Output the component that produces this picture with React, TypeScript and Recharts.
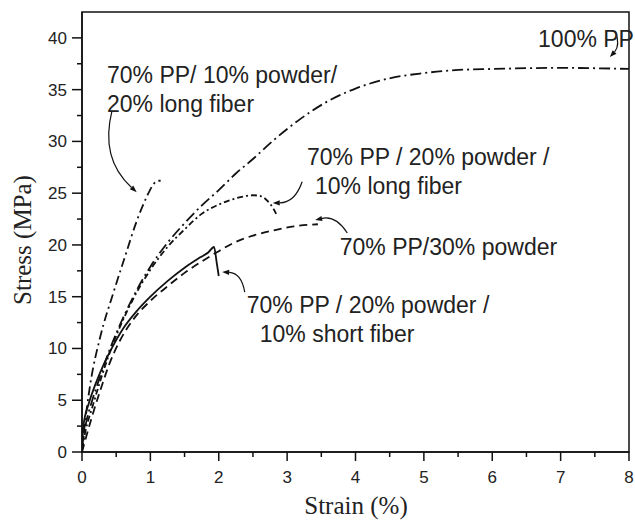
import {
  LineChart,
  Line,
  XAxis,
  YAxis,
  ReferenceArea,
  ReferenceLine,
  ReferenceDot,
  Customized,
} from 'recharts';

type Pt = [number, number];

// strain (%), stress (MPa)
const pp100: Pt[] = [
  [0, 0.5], [0.05, 2.5], [0.15, 5], [0.25, 7], [0.4, 9.8], [0.55, 12.2], [0.75, 15],
  [1.0, 17.9], [1.25, 20.2], [1.5, 22.1], [1.75, 23.8], [2.0, 25.3], [2.25, 26.9],
  [2.5, 28.3], [2.8, 30.1], [3.2, 32.2], [3.6, 33.9], [4.0, 35.1], [4.5, 36.1],
  [5.0, 36.6], [5.5, 36.9], [6.0, 37.0], [7.0, 37.1], [8.0, 37.0],
];
const longFiber20: Pt[] = [
  [0, 0], [0.03, 2], [0.12, 6.5], [0.27, 11.2], [0.46, 15.4], [0.63, 18.9],
  [0.8, 22.3], [0.95, 24.7], [1.05, 25.9], [1.1, 26.2], [1.15, 26.2],
];
const longFiber10: Pt[] = [
  [0, 0.3], [0.05, 2], [0.15, 4.3], [0.25, 6.5], [0.4, 9.5], [0.55, 12], [0.75, 14.8],
  [1.0, 17.6], [1.25, 19.8], [1.5, 21.5], [1.75, 23.0], [2.0, 23.9], [2.25, 24.5],
  [2.5, 24.8], [2.62, 24.7], [2.72, 24.2], [2.8, 23.5], [2.84, 23.0],
];
const shortFiber10: Pt[] = [
  [0, 0.3], [0.02, 2.5], [0.1, 4.7], [0.2, 6.6], [0.3, 8.2], [0.45, 10.2], [0.6, 11.9],
  [0.8, 13.6], [1.0, 15.0], [1.25, 16.5], [1.5, 17.8], [1.73, 18.8], [1.85, 19.3],
  [1.93, 19.8], [1.97, 18.3], [2.0, 17.0],
];
const powder30: Pt[] = [
  [0, 0], [0.05, 1.2], [0.15, 3.5], [0.27, 6], [0.4, 8.5], [0.55, 10.7], [0.75, 12.8],
  [1.0, 14.6], [1.25, 16.0], [1.5, 17.3], [1.75, 18.4], [2.0, 19.4], [2.25, 20.3],
  [2.5, 20.9], [2.8, 21.4], [3.1, 21.8], [3.45, 22.0],
];

const xTicks = [0, 0.5, 1, 1.5, 2, 2.5, 3, 3.5, 4, 4.5, 5, 5.5, 6, 6.5, 7, 7.5, 8];
const yTicks = [0, 2.5, 5, 7.5, 10, 12.5, 15, 17.5, 20, 22.5, 25, 27.5, 30, 32.5, 35, 37.5, 40];

// text notes: left edge / baseline of first line in data units
const notes = [
  { x: 0.366, y: 35.64, lines: ['70% PP/ 10% powder/', '20% long fiber'], indent: 0 },
  { x: 3.29, y: 27.72, lines: ['70% PP / 20% powder /', '10% long fiber'], indent: 8 },
  { x: 3.77, y: 19.03, lines: ['70% PP/30% powder'], indent: 0 },
  { x: 2.41, y: 13.43, lines: ['70% PP / 20% powder /', '10% short fiber'], indent: 13 },
  { x: 6.67, y: 39.12, lines: ['100% PP'], indent: 0 },
];

// leader arrows: from label to curve
const arrows = [
  { from: [0.44, 33.0], to: [0.8, 25.1], bend: 0.3 },
  { from: [3.22, 26.1], to: [2.79, 24.05], bend: -0.35 },
  { from: [3.88, 21.15], to: [3.41, 22.41], bend: 0.35 },
  { from: [2.38, 15.45], to: [2.05, 17.39], bend: 0.4 },
  { from: [7.8, 40.66], to: [7.72, 38.15], bend: -0.3 },
];

const SANS = '"Liberation Sans", Arial, sans-serif';
const SERIF = '"Liberation Serif", "Times New Roman", serif';
const INK = '#111';

const rows = (pts: Pt[]) => pts.map(([strain, stress]) => ({ strain, stress }));

const YTick = ({ x, y, payload }: any) => {
  const major = payload.value % 5 === 0;
  return (
    <g>
      <line x1={x} x2={x - (major ? 10 : 5)} y1={y} y2={y} stroke={INK} strokeWidth={1.5} />
      {major && (
        <text x={x - 15} y={y} dy={6} textAnchor="end" fontSize={17} fontFamily={SANS} fill="#222">
          {payload.value}
        </text>
      )}
    </g>
  );
};

const XTick = ({ x, y, payload }: any) => {
  const major = payload.value % 1 === 0;
  return (
    <g>
      <line x1={x} x2={x} y1={y} y2={y + (major ? 9 : 5)} stroke={INK} strokeWidth={1.5} />
      {major && (
        <text x={x} y={y + 31} textAnchor="middle" fontSize={17} fontFamily={SANS} fill="#222">
          {payload.value}
        </text>
      )}
    </g>
  );
};

const arrowShape = (bend: number) => (props: any) => {
  const { x1, y1, x2, y2 } = props;
  const dx = x2 - x1;
  const dy = y2 - y1;
  const cx = (x1 + x2) / 2 - dy * bend;
  const cy = (y1 + y2) / 2 + dx * bend;
  const ang = Math.atan2(y2 - cy, x2 - cx);
  const len = 7;
  const half = 2.6;
  const bx = x2 - len * Math.cos(ang);
  const by = y2 - len * Math.sin(ang);
  const px = half * Math.sin(ang);
  const py = -half * Math.cos(ang);
  return (
    <g>
      <path d={`M${x1},${y1} Q${cx},${cy} ${bx},${by}`} fill="none" stroke={INK} strokeWidth={1.2} />
      <polygon points={`${x2},${y2} ${bx + px},${by + py} ${bx - px},${by - py}`} fill={INK} />
    </g>
  );
};

const noteShape = (lines: string[], indent: number) => (props: any) => (
  <text x={props.cx} y={props.cy} fontSize={23} fontFamily={SANS} fill="#222">
    {lines.map((t, i) => (
      <tspan key={i} x={props.cx + (i > 0 ? indent : 0)} dy={i === 0 ? 0 : 29}>
        {t}
      </tspan>
    ))}
  </text>
);

const Titles = () => (
  <g fontFamily={SERIF} fontSize={25} fill="#222">
    <text x={356} y={514} textAnchor="middle">Strain (%)</text>
    <text x={31} y={240} textAnchor="middle" transform="rotate(-90 31 240)">Stress (MPa)</text>
  </g>
);

const series = [
  { key: 'pp100', data: pp100, dash: '11 4 2 4' },
  { key: 'lf20', data: longFiber20, dash: '9 4 2 4' },
  { key: 'lf10', data: longFiber10, dash: '6 3 2 3' },
  { key: 'sf10', data: shortFiber10, dash: undefined },
  { key: 'pw30', data: powder30, dash: '8 5' },
];

export default function App() {
  return (
    <div style={{ position: 'absolute', left: 0, top: 0, background: '#fff' }}>
      <LineChart width={635} height={523} margin={{ top: 12, right: 6, bottom: 0, left: 0 }}>
        <XAxis
          type="number"
          dataKey="strain"
          domain={[0, 8]}
          ticks={xTicks}
          interval={0}
          height={71}
          tickSize={0}
          tickMargin={0}
          tick={<XTick />}
          axisLine={{ stroke: INK, strokeWidth: 1.5 }}
          allowDataOverflow
        />
        <YAxis
          type="number"
          dataKey="stress"
          domain={[0, 42.5]}
          ticks={yTicks}
          interval={0}
          width={82}
          tickSize={0}
          tickMargin={0}
          tick={<YTick />}
          axisLine={{ stroke: INK, strokeWidth: 1.5 }}
          allowDataOverflow
        />
        <ReferenceArea x1={0} x2={8} y1={0} y2={42.5} fill="none" stroke={INK} strokeWidth={1.5} />
        {series.map((s) => (
          <Line
            key={s.key}
            data={rows(s.data)}
            dataKey="stress"
            type="monotone"
            stroke={INK}
            strokeWidth={1.8}
            strokeDasharray={s.dash}
            dot={false}
            activeDot={false}
            isAnimationActive={false}
          />
        ))}
        {arrows.map((a, i) => (
          <ReferenceLine
            key={`arrow-${i}`}
            segment={[
              { x: a.from[0], y: a.from[1] },
              { x: a.to[0], y: a.to[1] },
            ]}
            shape={arrowShape(a.bend)}
          />
        ))}
        {notes.map((n, i) => (
          <ReferenceDot key={`note-${i}`} x={n.x} y={n.y} r={0} shape={noteShape(n.lines, n.indent)} />
        ))}
        <Customized component={Titles} />
      </LineChart>
    </div>
  );
}
